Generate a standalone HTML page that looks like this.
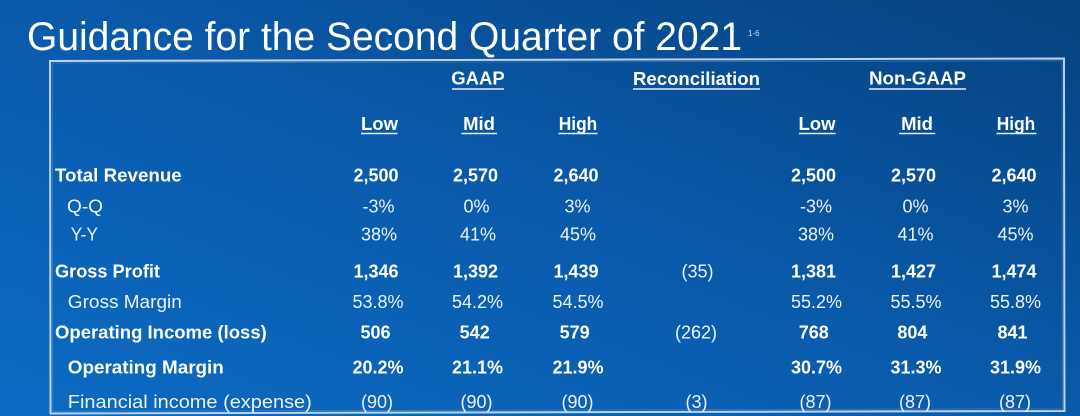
<!DOCTYPE html>
<html>
<head>
<meta charset="utf-8">
<style>
  html, body { margin:0; padding:0; }
  body { width:1080px; height:416px; overflow:hidden; background:#0a5aa9; }
  svg { display:block; }
  .t { font-family:"Liberation Sans", Arial, sans-serif; }
  .b { font-weight:bold; fill:#ffffff; font-size:18.5px; }
  .r { font-weight:normal; fill:#eef3fa; font-size:18.5px; }
  .nb { font-weight:bold; fill:#ffffff; font-size:18px; text-anchor:middle; }
  .nr { font-weight:normal; fill:#eef3fa; font-size:18px; text-anchor:middle; }
  .h { font-weight:bold; fill:#ffffff; font-size:18.5px; text-anchor:middle; }
  .ul { stroke:#e6eef8; stroke-width:1.5; }
</style>
</head>
<body>
<svg width="1080" height="416" viewBox="0 0 1080 416" xmlns="http://www.w3.org/2000/svg">
  <defs>
    <linearGradient id="bg" x1="0" y1="1" x2="1" y2="0">
      <stop offset="0" stop-color="#0b6bc3"/>
      <stop offset="0.5" stop-color="#0a5aab"/>
      <stop offset="1" stop-color="#05427e"/>
    </linearGradient>
  </defs>
  <rect x="0" y="0" width="1080" height="416" fill="url(#bg)"/>

  <!-- Title -->
  <text class="t" x="27" y="50" font-size="40" fill="#ffffff" textLength="715" lengthAdjust="spacingAndGlyphs">Guidance for the Second Quarter of 2021</text>
  <text class="t" x="748" y="36" font-size="8" fill="#d0dcec">1-6</text>

  <!-- Box -->
  <polygon points="50,61 1064,58.5 1064.5,411 50.5,413.5" fill="none" stroke="#bcd2ec" stroke-width="2"/>
  <polygon points="52.5,63 1062,60.8 1062.3,408.8 52.8,411.2" fill="none" stroke="#5d8fcb" stroke-width="0.8" opacity="0.6"/>

  <!-- Group headers -->
  <text class="t h" x="478" y="84.4">GAAP</text>
  <line class="ul" x1="452" y1="89" x2="504" y2="89"/>
  <text class="t h" x="696.5" y="84.8" textLength="127" lengthAdjust="spacingAndGlyphs">Reconciliation</text>
  <line class="ul" x1="633" y1="89" x2="760" y2="89"/>
  <text class="t h" x="917.5" y="84.4" textLength="97" lengthAdjust="spacingAndGlyphs">Non-GAAP</text>
  <line class="ul" x1="869" y1="89" x2="966" y2="89"/>

  <!-- Sub headers -->
  <text class="t h" x="379.5" y="129.8">Low</text>
  <line class="ul" x1="361" y1="133.5" x2="397.5" y2="133.5"/>
  <text class="t h" x="479" y="129.8">Mid</text>
  <line class="ul" x1="461.5" y1="133.5" x2="497" y2="133.5"/>
  <text class="t h" x="578" y="129.8" textLength="38.5" lengthAdjust="spacingAndGlyphs">High</text>
  <line class="ul" x1="558.5" y1="133.5" x2="597.5" y2="133.5"/>
  <text class="t h" x="817" y="129.8">Low</text>
  <line class="ul" x1="799" y1="133.5" x2="835.5" y2="133.5"/>
  <text class="t h" x="917" y="129.8">Mid</text>
  <line class="ul" x1="899" y1="133.5" x2="935.3" y2="133.5"/>
  <text class="t h" x="1016" y="129.8" textLength="38.5" lengthAdjust="spacingAndGlyphs">High</text>
  <line class="ul" x1="996.5" y1="133.5" x2="1036.5" y2="133.5"/>

  <!-- Row labels -->
  <text class="t b" x="55" y="181.3" textLength="126.7" lengthAdjust="spacingAndGlyphs">Total Revenue</text>
  <text class="t r" x="67" y="212.3" textLength="36" lengthAdjust="spacingAndGlyphs">Q-Q</text>
  <text class="t r" x="70.6" y="240.6" textLength="27.4" lengthAdjust="spacingAndGlyphs">Y-Y</text>
  <text class="t b" x="55" y="277.7" textLength="105" lengthAdjust="spacingAndGlyphs">Gross Profit</text>
  <text class="t r" x="67.8" y="308.2" textLength="114" lengthAdjust="spacingAndGlyphs">Gross Margin</text>
  <text class="t b" x="55" y="338.5" textLength="211.8" lengthAdjust="spacingAndGlyphs">Operating Income (loss)</text>
  <text class="t b" x="67.8" y="373.7" textLength="156" lengthAdjust="spacingAndGlyphs">Operating Margin</text>
  <text class="t r" x="67.8" y="408" textLength="244" lengthAdjust="spacingAndGlyphs">Financial income (expense)</text>

  <!-- Total Revenue -->
  <g class="t">
    <text class="nb" x="376" y="181.3">2,500</text>
    <text class="nb" x="475.5" y="181.3">2,570</text>
    <text class="nb" x="576" y="181.3">2,640</text>
    <text class="nb" x="813.5" y="181.3">2,500</text>
    <text class="nb" x="913.5" y="181.3">2,570</text>
    <text class="nb" x="1014" y="181.3">2,640</text>

    <!-- Q-Q -->
    <text class="nr" x="378.5" y="212.3">-3%</text>
    <text class="nr" x="476.5" y="212.3">0%</text>
    <text class="nr" x="577.5" y="212.3">3%</text>
    <text class="nr" x="816" y="212.3">-3%</text>
    <text class="nr" x="915.5" y="212.3">0%</text>
    <text class="nr" x="1015.5" y="212.3">3%</text>

    <!-- Y-Y -->
    <text class="nr" x="379" y="240.6">38%</text>
    <text class="nr" x="478" y="240.6">41%</text>
    <text class="nr" x="578" y="240.6">45%</text>
    <text class="nr" x="816" y="240.6">38%</text>
    <text class="nr" x="915.5" y="240.6">41%</text>
    <text class="nr" x="1015.5" y="240.6">45%</text>

    <!-- Gross Profit -->
    <text class="nb" x="376" y="277.7">1,346</text>
    <text class="nb" x="475.5" y="277.7">1,392</text>
    <text class="nb" x="576" y="277.7">1,439</text>
    <text class="nr" x="697.5" y="277.7">(35)</text>
    <text class="nb" x="813.5" y="277.7">1,381</text>
    <text class="nb" x="913.5" y="277.7">1,427</text>
    <text class="nb" x="1014" y="277.7">1,474</text>

    <!-- Gross Margin -->
    <text class="nr" x="378" y="308.2">53.8%</text>
    <text class="nr" x="477.5" y="308.2">54.2%</text>
    <text class="nr" x="578" y="308.2">54.5%</text>
    <text class="nr" x="816.5" y="308.2">55.2%</text>
    <text class="nr" x="916" y="308.2">55.5%</text>
    <text class="nr" x="1015.5" y="308.2">55.8%</text>

    <!-- Operating Income -->
    <text class="nb" x="375.5" y="338.5">506</text>
    <text class="nb" x="474.7" y="338.5">542</text>
    <text class="nb" x="574.6" y="338.5">579</text>
    <text class="nr" x="696" y="338.5">(262)</text>
    <text class="nb" x="813.8" y="338.5">768</text>
    <text class="nb" x="912.4" y="338.5">804</text>
    <text class="nb" x="1012.5" y="338.5">841</text>

    <!-- Operating Margin -->
    <text class="nb" x="378" y="373.7">20.2%</text>
    <text class="nb" x="477.5" y="373.7">21.1%</text>
    <text class="nb" x="578" y="373.7">21.9%</text>
    <text class="nb" x="816.5" y="373.7">30.7%</text>
    <text class="nb" x="916" y="373.7">31.3%</text>
    <text class="nb" x="1015.5" y="373.7">31.9%</text>

    <!-- Financial income -->
    <text class="nr" x="377" y="408">(90)</text>
    <text class="nr" x="476.5" y="408">(90)</text>
    <text class="nr" x="577.5" y="408">(90)</text>
    <text class="nr" x="696.5" y="408">(3)</text>
    <text class="nr" x="815.5" y="408">(87)</text>
    <text class="nr" x="915" y="408">(87)</text>
    <text class="nr" x="1015" y="408">(87)</text>
  </g>
</svg>
</body>
</html>
